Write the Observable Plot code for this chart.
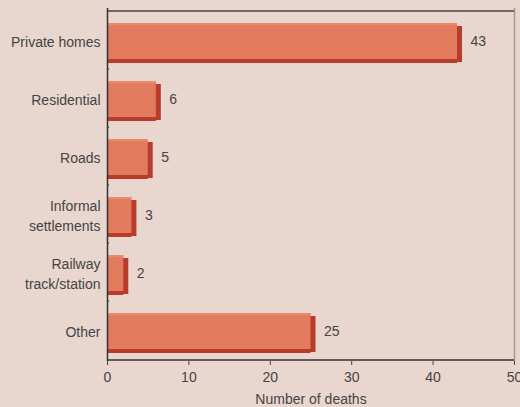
<!DOCTYPE html>
<html>
<head>
<meta charset="utf-8">
<script src="https://cdn.jsdelivr.net/npm/d3@7"></script>
<script src="https://cdn.jsdelivr.net/npm/@observablehq/plot@0.6"></script>
<style>
  html, body { margin: 0; padding: 0; background: #e9d6ce; }
  #chart svg { display: block; }
</style>
</head>
<body>
<div id="chart"></div>
<script>
const categories = ["Private homes", "Residential", "Roads", "Informal\nsettlements", "Railway\ntrack/station", "Other"];
const deaths = [43, 6, 5, 3, 2, 25];
const xTicks = [0, 10, 20, 30, 40, 50];

const data = categories.map((c, i) => ({category: c, value: deaths[i]}));

const W = 520, H = 407;
const mt = 8, mb = 46, ml = 107, mr = 6;
const step = (H - mt - mb) / categories.length;

const chart = Plot.plot({
  width: W,
  height: H,
  marginTop: mt,
  marginBottom: mb,
  marginLeft: ml,
  marginRight: mr,
  style: {background: "#e9d6ce", fontFamily: "Liberation Sans, Arial, sans-serif", fontSize: "14px", color: "#444"},
  x: {domain: [0, 50], ticks: xTicks, label: "Number of deaths", labelAnchor: "center", labelArrow: "none"},
  y: {domain: categories, padding: 0, label: null},
  marks: [
    // shadow (bottom strip and right side)
    Plot.barX(data, {y: "category", x: "value", fill: "#b83c2c", insetTop: 12, insetBottom: 10, dy: 4}),
    Plot.barX(data, {y: "category", x: "value", fill: "#b83c2c", insetTop: 12, insetBottom: 10, dx: 5, dy: 3}),
    // face
    Plot.barX(data, {y: "category", x: "value", fill: "#e27a5e", insetTop: 12, insetBottom: 10}),
    // highlight
    Plot.barX(data, {y: "category", x: "value", fill: "#ea8a6d", insetTop: 12, insetBottom: step - 15}),
    Plot.text(data, {y: "category", x: "value", text: d => String(d.value), textAnchor: "start", dx: 13, dy: 1, fill: "#444", fontSize: 14}),
    // y ticks at band boundaries
    Plot.ruleY(categories.slice(1), {y: d => d, x1: 0, x2: 0.25, dy: -step / 2, stroke: "#333", strokeWidth: 1.2}),
    Plot.ruleX([50], {stroke: "#a09a98", strokeWidth: 1.5}),
    Plot.ruleY([categories[0]], {dy: -step / 2, stroke: "#444", strokeWidth: 1.5}),
    Plot.ruleX([0], {stroke: "#333", strokeWidth: 1.5}),
    Plot.axisY({tickSize: 0, tickPadding: 7, fontSize: 14, fill: "#444", lineHeight: 1.45, label: null}),
    Plot.axisX({ticks: xTicks, tickSize: 4, tickPadding: 7, fontSize: 14, fill: "#444", label: "Number of deaths", labelAnchor: "center", labelArrow: "none", labelOffset: 42}),
    Plot.ruleY([0], {y: () => categories[categories.length - 1], dy: step / 2, stroke: "#333", strokeWidth: 1.5})
  ]
});

document.getElementById("chart").appendChild(chart);
</script>
</body>
</html>
